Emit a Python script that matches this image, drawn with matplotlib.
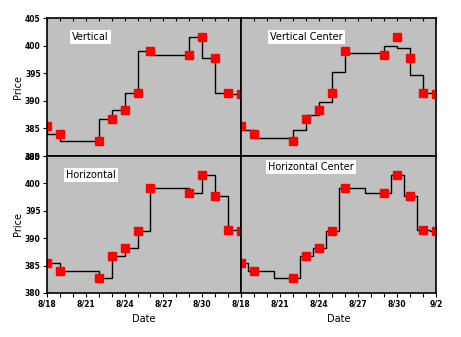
import numpy as np
import pandas as pd
import matplotlib
matplotlib.use("Agg")
import matplotlib.pyplot as plt
import matplotlib.dates as mdates

# data
dates = ["2000-08-18", "2000-08-19", "2000-08-22", "2000-08-23", "2000-08-24", "2000-08-25",
         "2000-08-26", "2000-08-29", "2000-08-30", "2000-08-31", "2000-09-01", "2000-09-02"]
price = [385.5, 384.0, 382.7, 386.7, 388.3, 391.4, 399.1, 398.3, 401.6, 397.7, 391.5, 391.3]
panel_titles = ["Vertical", "Vertical Center", "Horizontal", "Horizontal Center"]
xtick_labels = ["8/18", "8/21", "8/24", "8/27", "8/30", "9/2"]
yticks = [380, 385, 390, 395, 400, 405]

x = mdates.date2num(pd.to_datetime(dates))
y = np.array(price)
mid = (y[:-1] + y[1:]) / 2  # centre levels for "Vertical Center"

fig = plt.figure(figsize=(4.61, 3.37), dpi=100)
W, H = 461, 337
left, midx, right = 47, 241, 436
top, midy, bottom = 18, 156, 293

def box(x0, x1, y0, y1):
    return [x0 / W, 1 - y1 / H, (x1 - x0) / W, (y1 - y0) / H]

rects = [box(left, midx, top, midy), box(midx, right, top, midy),
         box(left, midx, midy, bottom), box(midx, right, midy, bottom)]
title_pos = [(0.13, 0.86), (0.15, 0.86), (0.1, 0.86), (0.14, 0.92)]

for i, r in enumerate(rects):
    ax = fig.add_axes(r)
    ax.set_facecolor("#c0c0c0")
    if i == 0:
        ax.plot(x, y, drawstyle="steps-pre", color="black", lw=1)
    elif i == 1:
        ax.plot(x, np.concatenate([[mid[0]], mid]), drawstyle="steps-pre", color="black", lw=1)
    elif i == 2:
        ax.plot(x, y, drawstyle="steps-post", color="black", lw=1)
    else:
        ax.plot(x, y, drawstyle="steps-mid", color="black", lw=1)
    ax.plot(x, y, "s", color="red", markersize=5.5, linestyle="none")
    ax.set_xlim(x[0], x[-1])
    ax.set_ylim(380, 405)
    for s in ax.spines.values():
        s.set_linewidth(1.2)
    ax.set_xticks(x[0] + np.arange(0, 16, 3))
    ax.set_xticks(x[0] + np.arange(0, 16), minor=True)
    ax.set_yticks(yticks)
    ax.tick_params(axis="both", which="both", length=3, width=0.8, labelsize=5.5, pad=1.5)
    ax.tick_params(axis="x", which="both", top=(i < 2), bottom=(i >= 2), direction="out")
    if i < 2:
        ax.tick_params(axis="x", which="both", direction="in", length=2.5)
    if i >= 2:
        labels = list(xtick_labels)
        if i == 2:
            labels[-1] = ""  # hidden under the right panel's 8/18
        ax.set_xticklabels(labels, fontweight="bold")
        ax.set_xlabel("Date", fontsize=7, labelpad=4)
    else:
        ax.set_xticklabels([])
    if i % 2 == 0:
        ax.set_yticklabels([str(v) for v in yticks], fontweight="bold")
        ax.set_ylabel("Price", fontsize=7, labelpad=1)
    else:
        ax.tick_params(axis="y", left=False, labelleft=False)
    ax.text(title_pos[i][0], title_pos[i][1], panel_titles[i], transform=ax.transAxes,
            fontsize=7, va="center", ha="left",
            bbox=dict(facecolor="white", edgecolor="none", pad=1.5))

fig.savefig("out.png", dpi=100)
